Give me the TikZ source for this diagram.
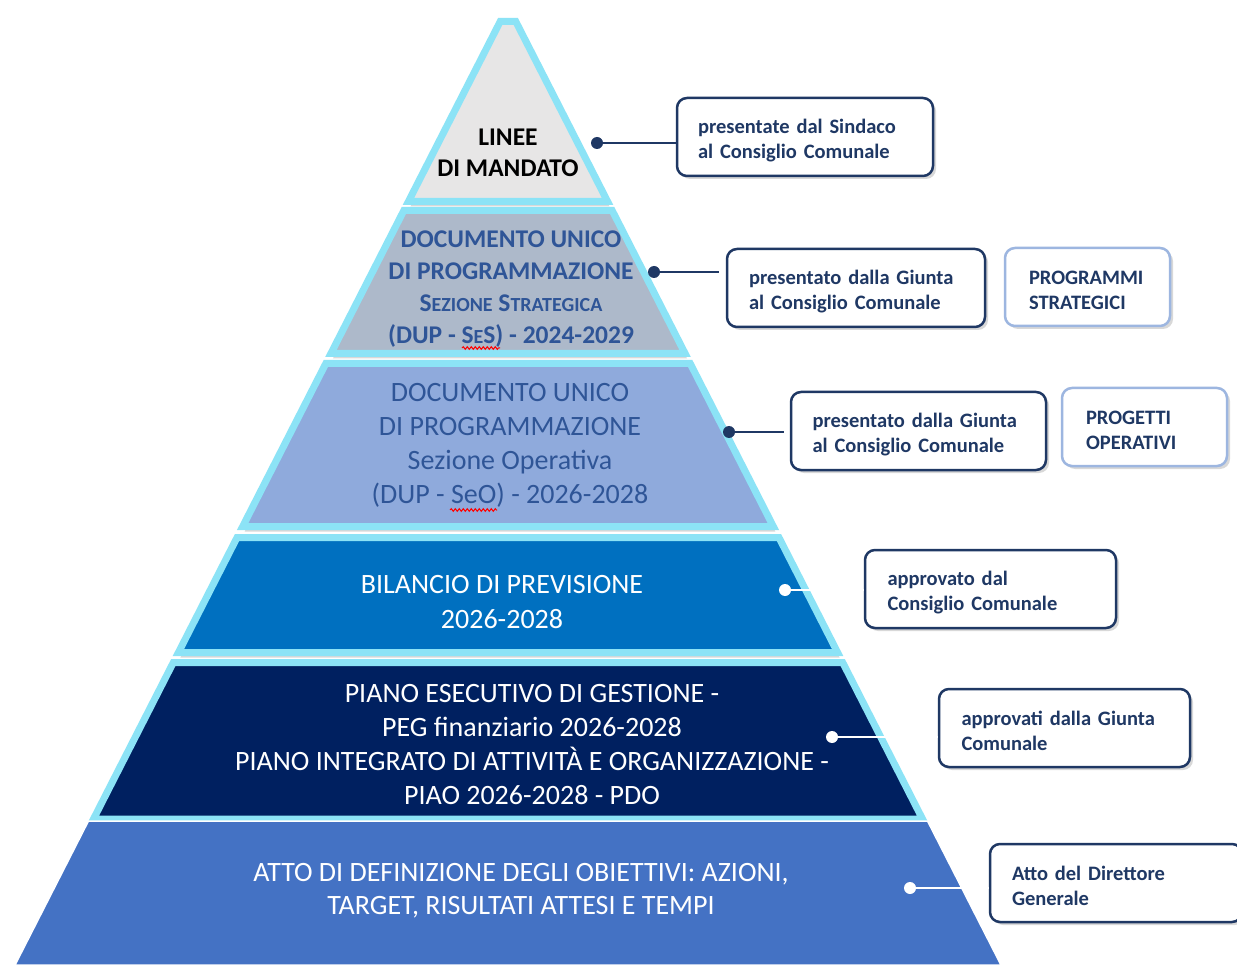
\documentclass[tikz,border=0pt]{standalone}
\usepackage{fontspec}
\setmainfont{Carlito}
\usetikzlibrary{shadows,decorations.pathmorphing}

\definecolor{navy}{HTML}{1F3864}
\definecolor{edgecyan}{HTML}{8CE3F6}
\definecolor{tagblue}{HTML}{9DB6E0}
\definecolor{tierA}{HTML}{E7E6E6}
\definecolor{tierB}{HTML}{ADB9CA}
\definecolor{tierC}{HTML}{8FAADC}
\definecolor{tierD}{HTML}{0070C0}
\definecolor{tierE}{HTML}{002060}
\definecolor{tierF}{HTML}{4472C4}
\definecolor{tiertext}{HTML}{2F5597}

% small caps done by hand
\newcommand{\petit}[1]{{\fontsize{20}{32}\selectfont #1}}

\tikzset{
  tier/.style={draw=edgecyan, line width=7pt, line join=miter,
    drop shadow={opacity=0.3, shadow xshift=2pt, shadow yshift=-5pt}},
  tierlabel/.style={align=center, inner sep=0pt},
  notebox/.style={draw=navy, line width=2.5pt, rounded corners=10pt, fill=white,
    text=navy, font=\bfseries\fontsize{20.5}{25}\selectfont, align=left,
    minimum height=78pt, inner sep=0pt, text height=21pt,
    drop shadow={opacity=0.3, shadow xshift=3pt, shadow yshift=-3pt}},
  tagbox/.style={notebox, draw=tagblue, minimum width=165pt, text width=117pt},
  navydot/.style={circle, fill=navy, inner sep=0pt, minimum size=12pt},
  whitedot/.style={navydot, fill=white},
  link/.style={navy, line width=2.5pt},
  whitelink/.style={white, line width=2.5pt},
}

\begin{document}
\begin{tikzpicture}[x=1pt, y=-1pt]
  \useasboundingbox[fill=white] (0,0) rectangle (1237,965);

  % pyramid tiers, top to bottom (edges follow x = 498 -/+ 0.51 (y-18))
  \foreach \yt/\yb/\col in {21.5/201.5/tierA, 210.5/353.5/tierB, 363.5/526.5/tierC,
                            537.5/652.5/tierD, 662.5/819/tierE}
    \filldraw[tier, fill=\col]
      ({502-0.51*(\yt-18)}, \yt) -- ({514+0.51*(\yt-18)}, \yt) --
      ({514+0.51*(\yb-18)}, \yb) -- ({502-0.51*(\yb-18)}, \yb) -- cycle;

  % base tier, no cyan edge
  \filldraw[fill=tierF, draw=white, line width=1.5pt]
    ({498-0.51*(821-18)}, 821) -- ({518+0.51*(821-18)}, 821) --
    ({518+0.51*(965-18)}, 965) -- ({498-0.51*(965-18)}, 965) -- cycle;

  % tier labels
  \node[tierlabel, text=black, font=\bfseries\fontsize{25.5}{31}\selectfont]
    (mandato) at (508,153) {LINEE\\DI MANDATO};
  \node[tierlabel, text=tiertext, font=\bfseries\fontsize{25.5}{32}\selectfont]
    (dupses) at (511,289) {DOCUMENTO UNICO\\DI PROGRAMMAZIONE\\
      S\petit{EZIONE} S\petit{TRATEGICA}\\(DUP - S\petit{E}S) - 2024-2029};
  \node[tierlabel, text=tiertext, font=\fontsize{28}{34}\selectfont]
    (dupseo) at (510,445) {DOCUMENTO UNICO\\DI PROGRAMMAZIONE\\
      Sezione Operativa\\(DUP - SeO) - 2026-2028};
  \node[tierlabel, text=white, font=\fontsize{28}{35}\selectfont]
    (bilancio) at (502,602) {BILANCIO DI PREVISIONE\\2026-2028};
  \node[tierlabel, text=white, font=\fontsize{28}{34}\selectfont]
    (peg) at (532,745) {PIANO ESECUTIVO DI GESTIONE -\\PEG finanziario 2026-2028\\
      PIANO INTEGRATO DI ATTIVITÀ E ORGANIZZAZIONE -\\PIAO 2026-2028 - PDO};
  \node[tierlabel, text=white, font=\fontsize{28}{33}\selectfont]
    (obiettivi) at (521,891) {ATTO DI DEFINIZIONE DEGLI OBIETTIVI: AZIONI,\\
      TARGET, RISULTATI ATTESI E TEMPI};

  % spell-check marks
  \draw[red, line width=1pt, decorate, decoration={snake, amplitude=1.3pt, segment length=4pt}]
    (462,348) -- (500,348);
  \draw[red, line width=1pt, decorate, decoration={snake, amplitude=1.3pt, segment length=4pt}]
    (450,510) -- (497,510);

  % side notes
  \node[notebox, minimum width=256pt, text width=214pt] (sindaco) at (805,137)
    {presentate dal Sindaco\\al Consiglio Comunale};
  \node[notebox, minimum width=258pt, text width=214pt] (giuntaA) at (856,288)
    {presentato dalla Giunta\\al Consiglio Comunale};
  \node[tagbox] (strategici) at (1087.5,287) {PROGRAMMI\\STRATEGICI};
  \node[notebox, minimum width=255pt, text width=212pt] (giuntaB) at (918.5,431)
    {presentato dalla Giunta\\al Consiglio Comunale};
  \node[tagbox] (operativi) at (1144.5,427) {PROGETTI\\OPERATIVI};
  \node[notebox, minimum width=251pt, text width=206pt] (consiglio) at (990.5,589)
    {approvato dal\\Consiglio Comunale};
  \node[notebox, minimum width=251pt, text width=206pt] (giuntaC) at (1064.5,728)
    {approvati dalla Giunta\\Comunale};
  \node[notebox, minimum width=252pt, text width=208pt] (direttore) at (1116,883)
    {Atto del Direttore\\Generale};

  % connectors
  \node[navydot] (d1) at (597,143) {};
  \node[navydot] (d2) at (654,272) {};
  \node[navydot] (d3) at (729,432) {};
  \node[whitedot] (d4) at (785,590) {};
  \node[whitedot] (d5) at (832,737) {};
  \node[whitedot] (d6) at (910,888) {};

  \draw[link] (d1.center) -- (d1 -| sindaco.west);
  \draw[link, shorten >=7pt] (d2.center) -- (d2 -| giuntaA.west);
  \draw[link, shorten >=6pt] (d3.center) -- (d3 -| giuntaB.west);
  \draw[whitelink] (d4.center) -- (d4 -| consiglio.west);
  \draw[whitelink] (d5.center) -- (d5 -| giuntaC.west);
  \draw[whitelink] (d6.center) -- (d6 -| direttore.west);
\end{tikzpicture}
\end{document}
